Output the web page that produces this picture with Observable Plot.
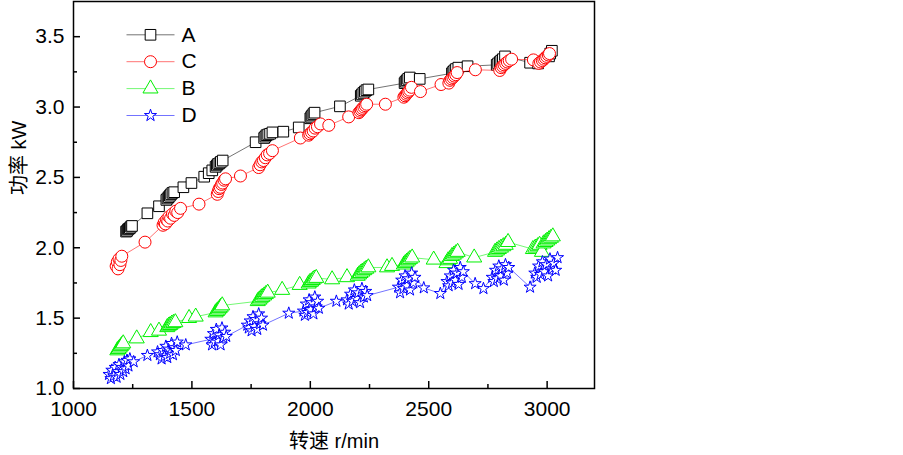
<!DOCTYPE html>
<html><head><meta charset="utf-8">
<script src="https://cdn.jsdelivr.net/npm/d3@7"></script>
<script src="https://cdn.jsdelivr.net/npm/@observablehq/plot@0.6"></script>
<style>
body{margin:0;background:#fff;}
#chart{width:903px;height:455px;}
</style></head><body><div id="chart"></div>
<script>
// ---- data ----
const seriesNames = ["A", "C", "B", "D"];
const xMajor = [1000, 1500, 2000, 2500, 3000];
const xMinor = [1250, 1750, 2250, 2750];
const yMajor = [1.0, 1.5, 2.0, 2.5, 3.0, 3.5];
const yMinor = [1.25, 1.75, 2.25, 2.75, 3.25];

const aRpm = [1222,1226,1230,1234,1238,1243,1247,1312,1361,1392,1397,1402,1407,1412,1418,1425,1464,1498,1552,1571,1586,1600,1605,1610,1616,1622,1630,1769,1805,1810,1815,1822,1830,1840,1886,1951,2000,2004,2008,2013,2018,2125,2213,2218,2224,2230,2237,2245,2398,2402,2407,2413,2420,2462,2598,2603,2608,2615,2625,2664,2787,2793,2800,2806,2813,2822,2928,2962,3008,3013,3020];
const aKw  = [2.115,2.12,2.13,2.135,2.14,2.15,2.155,2.245,2.295,2.34,2.35,2.36,2.37,2.38,2.39,2.395,2.43,2.46,2.505,2.53,2.55,2.575,2.585,2.595,2.60,2.61,2.62,2.75,2.78,2.79,2.80,2.805,2.81,2.82,2.825,2.855,2.92,2.93,2.94,2.95,2.96,3.005,3.08,3.09,3.10,3.11,3.12,3.125,3.17,3.18,3.19,3.20,3.21,3.20,3.24,3.25,3.26,3.27,3.28,3.29,3.30,3.31,3.32,3.33,3.34,3.36,3.315,3.31,3.36,3.38,3.40];

const cRpm = [1180,1185,1188,1192,1196,1200,1204,1302,1378,1383,1388,1393,1398,1403,1410,1418,1425,1432,1440,1452,1530,1607,1611,1615,1620,1625,1630,1636,1642,1705,1782,1788,1795,1802,1810,1818,1828,1840,1958,1993,1998,2005,2012,2020,2030,2043,2078,2162,2205,2210,2215,2220,2226,2232,2238,2317,2395,2400,2405,2410,2415,2420,2427,2465,2552,2585,2590,2596,2602,2608,2614,2620,2697,2800,2806,2812,2818,2825,2832,2840,2850,2942,2965,2972,2980,2986,2992,2998,3005,3010];
const cKw  = [1.87,1.90,1.85,1.92,1.88,1.91,1.94,2.04,2.16,2.18,2.17,2.20,2.19,2.22,2.21,2.24,2.23,2.26,2.25,2.28,2.31,2.38,2.40,2.42,2.43,2.45,2.46,2.48,2.49,2.51,2.57,2.59,2.61,2.62,2.64,2.66,2.67,2.69,2.78,2.80,2.81,2.82,2.83,2.85,2.86,2.88,2.87,2.93,2.96,2.97,2.98,2.99,3.00,3.01,3.02,3.02,3.07,3.08,3.09,3.10,3.11,3.12,3.14,3.11,3.16,3.17,3.19,3.20,3.21,3.22,3.23,3.245,3.265,3.26,3.28,3.29,3.30,3.31,3.32,3.33,3.34,3.335,3.31,3.32,3.33,3.34,3.35,3.36,3.37,3.38];

const bRpm = [1185,1190,1195,1200,1205,1210,1267,1326,1361,1396,1402,1408,1415,1422,1430,1488,1516,1600,1606,1612,1617,1622,1628,1778,1784,1790,1797,1805,1812,1820,1881,1955,1993,1998,2004,2010,2017,2025,2092,2155,2200,2206,2212,2220,2228,2236,2245,2324,2345,2395,2401,2407,2414,2421,2430,2521,2575,2582,2590,2598,2606,2614,2622,2692,2780,2788,2796,2805,2815,2825,2835,2940,2950,2960,2968,2978,2985,2993,3000,3008,3016,3024];
const bKw  = [1.27,1.28,1.29,1.30,1.31,1.32,1.355,1.40,1.41,1.435,1.445,1.45,1.46,1.465,1.47,1.50,1.51,1.54,1.55,1.56,1.57,1.58,1.59,1.62,1.63,1.64,1.65,1.66,1.67,1.68,1.70,1.735,1.745,1.755,1.76,1.77,1.78,1.785,1.775,1.79,1.80,1.81,1.82,1.83,1.84,1.85,1.86,1.86,1.87,1.88,1.89,1.90,1.91,1.92,1.93,1.915,1.89,1.91,1.92,1.94,1.95,1.96,1.97,1.93,1.97,1.98,1.99,2.00,2.01,2.02,2.04,1.99,2.00,2.01,2.02,1.97,2.03,2.04,2.05,2.06,2.07,2.08];

const dRpm = [1150,1158,1162,1170,1176,1182,1188,1192,1198,1204,1210,1215,1220,1226,1232,1238,1254,1312,1355,
  1365,1372,1378,1384,1390,1396,1402,1408,1414,1420,1426,1432,1438,1474,
  1580,1585,1591,1597,1603,1609,1615,1621,1627,1633,1639,1645,1734,
  1740,1746,1752,1758,1764,1770,1776,1782,1788,1794,1800,1909,
  1971,1977,1983,1989,1995,2001,2007,2013,2019,2025,2031,2036,2110,
  2155,2162,2170,2178,2186,2194,2202,2210,2218,2226,2234,2240,
  2372,2379,2386,2393,2400,2407,2414,2421,2428,2435,2442,2479,2549,
  2577,2584,2591,2598,2605,2612,2619,2626,2633,2640,2646,2696,2731,
  2768,2775,2782,2789,2796,2803,2810,2817,2824,2831,2838,2928,
  2948,2956,2964,2972,2980,2988,2996,3004,3012,3020,3028,3036,3044];
const dKw  = [1.10,1.07,1.13,1.09,1.15,1.08,1.12,1.17,1.10,1.15,1.12,1.19,1.14,1.20,1.16,1.21,1.19,1.235,1.26,
  1.24,1.21,1.27,1.23,1.30,1.22,1.28,1.25,1.32,1.24,1.29,1.27,1.33,1.31,
  1.35,1.31,1.39,1.33,1.42,1.34,1.38,1.31,1.43,1.36,1.40,1.37,1.45,
  1.43,1.48,1.41,1.51,1.44,1.49,1.42,1.53,1.46,1.50,1.45,1.535,
  1.55,1.52,1.60,1.54,1.63,1.56,1.61,1.53,1.65,1.58,1.62,1.57,1.62,
  1.63,1.60,1.67,1.62,1.70,1.64,1.68,1.61,1.71,1.65,1.69,1.66,
  1.72,1.68,1.77,1.71,1.80,1.73,1.78,1.70,1.82,1.75,1.79,1.715,1.675,
  1.76,1.73,1.80,1.75,1.84,1.77,1.82,1.74,1.86,1.79,1.83,1.745,1.71,
  1.79,1.76,1.84,1.78,1.87,1.80,1.85,1.77,1.88,1.82,1.86,1.72,
  1.82,1.79,1.87,1.81,1.90,1.83,1.88,1.80,1.92,1.85,1.89,1.84,1.93];

// ---- styling ----
const series = [
  {name: seriesNames[0], rpm: aRpm, kw: aKw, color: "#000000", symbol: "square",   r: 6},
  {name: seriesNames[1], rpm: cRpm, kw: cKw, color: "#ff0000", symbol: "circle",   r: 6},
  {name: seriesNames[2], rpm: bRpm, kw: bKw, color: "#00f000", symbol: "triangle", r: 5.6},
  {name: seriesNames[3], rpm: dRpm, kw: dKw, color: "#0000ff", symbol: "star",     r: 3.8}
];
const rowsOf = s => s.rpm.map((r, i) => ({series: s.name, rpm: r, kw: s.kw[i]}));
const lineSymbol = {draw(ctx) { ctx.moveTo(-24, 0); ctx.lineTo(24, 0); }};
const font = "'Liberation Sans', Arial, 'Noto Sans CJK SC', sans-serif";

const marks = [];
for (const s of series) {
  const rows = rowsOf(s);
  marks.push(Plot.line(rows, {x: "rpm", y: "kw", stroke: s.color, strokeWidth: 1, strokeOpacity: 0.55}));
  marks.push(Plot.dot(rows, {x: "rpm", y: "kw", symbol: s.symbol, r: s.r, fill: "white", stroke: s.color, strokeWidth: 1}));
}
// legend
series.forEach((s, i) => {
  const dy = 33.3 + 26.9 * i;
  marks.push(Plot.dot([s.name], {frameAnchor: "top-left", dx: 77, dy, symbol: lineSymbol, r: 1, fill: "none", stroke: s.color, strokeOpacity: 0.55, strokeWidth: 1}));
  marks.push(Plot.dot([s.name], {frameAnchor: "top-left", dx: 77, dy, symbol: s.symbol, r: s.r, fill: "white", stroke: s.color, strokeWidth: 1}));
  marks.push(Plot.text([s.name], {frameAnchor: "top-left", dx: 108, dy, text: d => d, textAnchor: "start", lineAnchor: "middle", fontSize: 21, fill: "black"}));
});
// axes
marks.push(
  Plot.frame({stroke: "black", strokeWidth: 1.5}),
  Plot.axisX({ticks: xMajor, tickSize: 0, tickPadding: 13, tickFormat: d3.format("d"), fontSize: 21, label: null}),
  Plot.axisX({ticks: xMajor, tickSize: 7, dy: -7, tickFormat: () => "", strokeWidth: 1.5, label: null}),
  Plot.axisX({ticks: xMinor, tickSize: 4, dy: -4, tickFormat: () => "", strokeWidth: 1.5, label: null}),
  Plot.axisY({ticks: yMajor, tickSize: 0, tickPadding: 9, tickFormat: d3.format(".1f"), fontSize: 21, label: null}),
  Plot.axisY({ticks: yMajor, tickSize: 7, dx: 7, tickFormat: () => "", strokeWidth: 1.5, label: null}),
  Plot.axisY({ticks: yMinor, tickSize: 4, dx: 4, tickFormat: () => "", strokeWidth: 1.5, label: null}),
  Plot.text(["转速 r/min"], {frameAnchor: "bottom", dy: 53, text: d => d, fontSize: 20, lineAnchor: "middle", fill: "black"}),
  Plot.text(["功率 kW"], {frameAnchor: "left", dx: -54, rotate: -90, text: d => d, fontSize: 20, lineAnchor: "middle", fill: "black"})
);

const chart = Plot.plot({
  width: 903,
  height: 455,
  marginLeft: 73,
  marginRight: 309,
  marginTop: 1,
  marginBottom: 67,
  x: {domain: [1000, 3200]},
  y: {domain: [1, 3.75]},
  style: {fontFamily: font, fontSize: "21px", color: "black", background: "white"},
  marks
});
document.getElementById("chart").appendChild(chart);
</script></body></html>
